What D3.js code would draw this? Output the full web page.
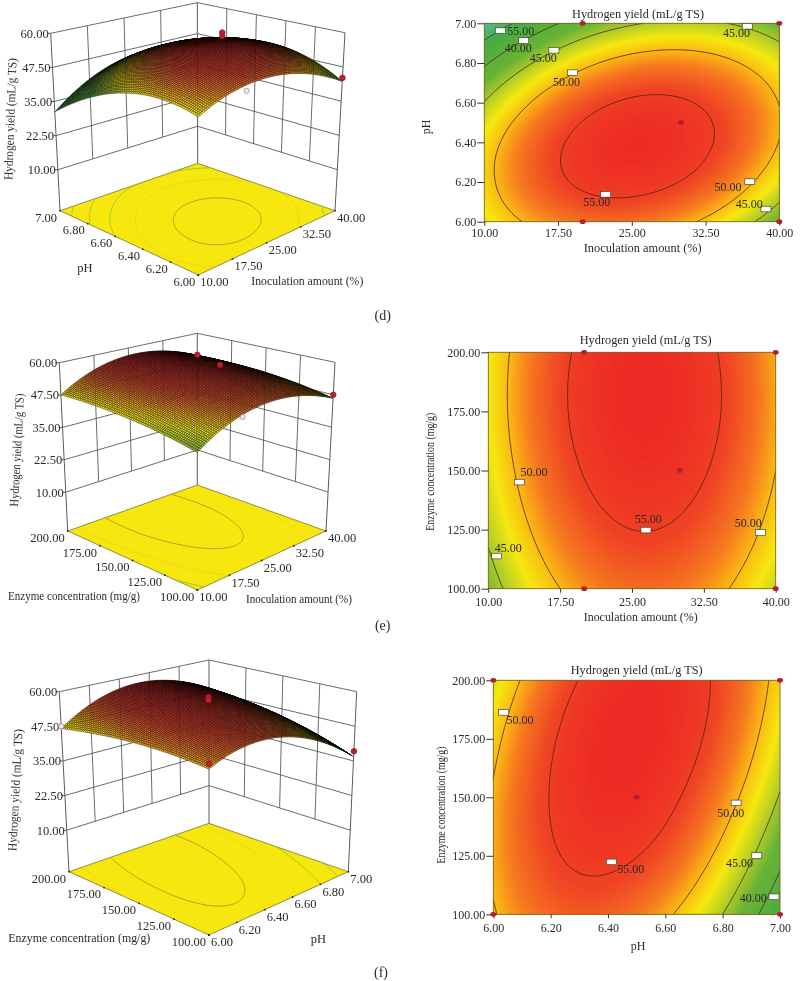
<!DOCTYPE html>
<html><head><meta charset="utf-8">
<script src="https://cdn.jsdelivr.net/npm/d3@7"></script>
<style>
html,body{margin:0;padding:0;background:#fff}
svg{display:block;filter:blur(0.35px)}
text{font-family:"Liberation Serif","Times New Roman",serif;fill:#2a2a2a}
</style></head><body><svg id="c" width="800" height="981"></svg>
<script>
// ---- values ----
const inocTicks = [10, 17.5, 25, 32.5, 40];
const phTicks = [6, 6.2, 6.4, 6.6, 6.8, 7];
const enzymeTicks = [100, 125, 150, 175, 200];
const zTicks = [10, 22.5, 35, 47.5, 60];
const contourLevels = [35, 40, 45, 50, 55];

// hydrogen yield at each tick crossing: rows = y-axis ticks, columns = x-axis ticks
const yieldInocPh = [
  [47.1, 51.8, 52.6, 49.4, 42.2],
  [48.9, 54.5, 56.0, 53.7, 47.3],
  [48.3, 54.6, 57.0, 55.4, 49.9],
  [45.1, 52.2, 55.4, 54.6, 49.9],
  [39.4, 47.3, 51.3, 51.3, 47.4],
  [31.2, 39.9, 44.6, 45.5, 42.3]];
const yieldInocEnzyme = [
  [43.3, 50.0, 52.7, 51.4, 46.1],
  [45.6, 52.3, 55.0, 53.7, 48.5],
  [47.1, 53.8, 56.5, 55.2, 50.0],
  [47.8, 54.5, 57.2, 55.9, 50.6],
  [47.6, 54.3, 57.0, 55.7, 50.4]];
const yieldPhEnzyme = [
  [49.7, 53.0, 53.3, 50.6, 45.0, 36.5],
  [50.5, 54.6, 55.6, 53.8, 48.9, 41.1],
  [50.3, 55.1, 56.9, 55.8, 51.7, 44.7],
  [49.0, 54.6, 57.2, 56.8, 53.5, 47.2],
  [46.7, 53.0, 56.4, 56.8, 54.2, 48.7]];

// design points seen on the 3D surfaces: x value, y value, measured yield
const pointsDX = [20, 40, 30, 30], pointsDY = [6, 6, 6.5, 6.5], pointsDZ = [50.5, 43.5, 59.2, 57.8], ringsD = [true, false, false, false];
const pointsEX = [20, 40, 40, 30], pointsEY = [100, 100, 200, 150], pointsEZ = [50.5, 47.5, 50.8, 58], ringsE = [true, false, false, false];
const pointsFX = [6, 6, 7, 6.5, 6.5], pointsFY = [100, 200, 100, 150, 150], pointsFZ = [51.5, 47.5, 38.5, 59.3, 58.3], ringsF = [false, true, false, false, false];

// contour labels: as printed, and where their white flags sit
const labelsDText = ["55.00","40.00","45.00","50.00","55.00","50.00","45.00","45.00"];
const labelsDX = [11.63,14.0,17.08,18.98,22.34,37.0,38.64,36.74];
const labelsDY = [6.963,6.913,6.864,6.751,6.138,6.202,6.064,6.985];
const labelsEText = ["50.00","45.00","55.00","50.00"];
const labelsEX = [13.24,10.87,26.46,38.4];
const labelsEY = [145.1,113.8,124.8,123.8];
const labelsFText = ["50.00","55.00","50.00","45.00","40.00"];
const labelsFX = [6.036,6.412,6.847,6.919,6.979];
const labelsFY = [186.3,122.4,147.6,125.1,107.5];

const title = "Hydrogen yield (mL/g TS)";
const inocName = "Inoculation amount (%)", phName = "pH", enzymeName = "Enzyme concentration (mg/g)";

// ---- layout ----
const zFloor = -5, zTop = 60;
const colorStops = [28, 31, 36, 42.5, 45, 47.8, 50, 52, 54.5, 57];
const colorRange = ["#56b8c4","#57b9a0","#47ac44","#69b335","#a9ca2a","#f6e80f","#fab814","#f6791f","#ef4224","#ee2a24"];
const color = d3.scaleLinear().domain(colorStops).range(colorRange).clamp(true);

const svg = d3.select("#c");

function catmull(v, t) {
  const n = v.length, s = Math.max(0, Math.min(1, t)) * (n - 1), i = Math.min(Math.floor(s), n - 2), f = s - i;
  const p0 = i > 0 ? v[i-1] : 3*v[0]-3*v[1]+v[2];
  const p1 = v[i], p2 = v[i+1];
  const p3 = i < n-2 ? v[i+2] : 3*v[n-1]-3*v[n-2]+v[n-3];
  return 0.5*((2*p1)+(-p0+p2)*f+(2*p0-5*p1+4*p2-p3)*f*f+(-p0+3*p1-3*p2+p3)*f*f*f);
}
function surfaceAt(table, a, b) { return catmull(table.map(r => catmull(r, a)), b); }

function contourField(table, nx, ny) {
  const vals = new Float64Array(nx*ny);
  for (let j=0;j<ny;j++) for (let i=0;i<nx;i++) vals[j*nx+i] = surfaceAt(table, i/(nx-1), j/(ny-1));
  return vals;
}
// open isolines, without the stretches that run along the frame
function isolineRuns(table, level, nx, ny, field) {
  const g = d3.contours().size([nx,ny]).thresholds([level])(field)[0];
  const fx = x => Math.max(0,Math.min(1,(x-0.5)/(nx-1))), fy = y => Math.max(0,Math.min(1,(y-0.5)/(ny-1)));
  const runs = [];
  g.coordinates.forEach(poly => poly.forEach(ring => {
    let cur = [];
    ring.forEach((p,k) => {
      const q = [fx(p[0]), fy(p[1])];
      if (k>0 && cur.length) {
        const r = cur[cur.length-1];
        const edge = (r[0]===0&&q[0]===0)||(r[0]===1&&q[0]===1)||(r[1]===0&&q[1]===0)||(r[1]===1&&q[1]===1);
        if (edge) { if (cur.length>1) runs.push(cur); cur = []; }
      }
      cur.push(q);
    });
    if (cur.length>1) runs.push(cur);
  }));
  return runs;
}
function fitted(sel, len) { return len ? sel.attr("textLength",len).attr("lengthAdjust","spacingAndGlyphs") : sel; }

function panel3D(o) {
  const g = svg.append("g");
  const aS = d3.scaleLinear().domain(d3.extent(o.aTicks)).range([0,1]);
  const bS = d3.scaleLinear().domain(d3.extent(o.bTicks)).range([0,1]);
  const zS = d3.scaleLinear().domain([zFloor,zTop]).range([0,1]);
  const lerp = (p,q,t) => [p[0]+(q[0]-p[0])*t, p[1]+(q[1]-p[1])*t];
  const proj = (a,b,z) => {
    const t = zS(z);
    const fl = lerp(lerp(o.F,o.R,a), lerp(o.L,o.B,a), b);
    const tp = lerp(lerp(o.tF,o.tR,a), lerp(o.tL,o.tB,a), b);
    return lerp(fl,tp,t);
  };
  const seg = (p,q,w) => g.append("line").attr("x1",p[0]).attr("y1",p[1]).attr("x2",q[0]).attr("y2",q[1])
      .attr("stroke","#5a5a5a").attr("stroke-width",w||0.9);
  // walls
  zTicks.forEach(z => { seg(proj(0,1,z),proj(1,1,z)); seg(proj(1,1,z),proj(1,0,z)); });
  o.aTicks.slice(1,-1).forEach(v => seg(proj(aS(v),1,10),proj(aS(v),1,60)));
  o.bTicks.slice(1,-1).forEach(v => seg(proj(1,bS(v),10),proj(1,bS(v),60)));
  seg(proj(0,1,zFloor),proj(0,1,60),1); seg(proj(1,1,zFloor),proj(1,1,60),1); seg(proj(1,0,zFloor),proj(1,0,60),1);
  // floor
  const poly = d3.line();
  g.append("path").attr("d",poly([proj(0,0,zFloor),proj(1,0,zFloor),proj(1,1,zFloor),proj(0,1,zFloor)])+"Z")
    .attr("fill","#f6e70e").attr("stroke","#4a4a20").attr("stroke-width",0.6);
  const nx=120, ny=90, field=contourField(o.table,nx,ny);
  contourLevels.forEach(l => {
    isolineRuns(o.table,l,nx,ny,field).forEach(run => {
      g.append("path").attr("d",poly(run.map(p=>proj(p[0],p[1],zFloor)))).attr("fill","none")
        .attr("stroke", l>=55 ? "#b8931f" : l>=50 ? "#e0c422" : "#93c42e").attr("stroke-width",0.9)
        .attr("stroke-opacity", l===50 ? 0.45 : 1);
    });
  });
  // floor edge ticks and labels
  o.aTicks.forEach(v => {
    const p = proj(aS(v),0,zFloor);
    g.append("circle").attr("cx",p[0]).attr("cy",p[1]).attr("r",0.9).attr("fill","#222");
    g.append("text").attr("x",p[0]+2).attr("y",p[1]+7).attr("dy","0.35em").attr("font-size",o.fs).text(d3.format(".2f")(v));
  });
  o.bTicks.forEach(v => {
    const p = proj(0,bS(v),zFloor);
    g.append("circle").attr("cx",p[0]).attr("cy",p[1]).attr("r",0.9).attr("fill","#222");
    g.append("text").attr("x",p[0]-3).attr("y",p[1]+6.5).attr("dy","0.35em").attr("text-anchor","end").attr("font-size",o.fs).text(d3.format(".2f")(v));
  });
  zTicks.forEach(z => {
    const p = proj(0,1,z);
    seg([p[0]-3,p[1]],p,1);
    g.append("text").attr("x",p[0]-2).attr("y",p[1]).attr("dy","0.35em").attr("text-anchor","end").attr("font-size",o.fs).text(d3.format(".2f")(z));
  });
  // surface, back to front
  const n = 80;
  const zGrid = d3.range(n+1).map(i => d3.range(n+1).map(j => surfaceAt(o.table,i/n,j/n)));
  const sg = g.append("g");
  for (let i=n-1;i>=0;i--) for (let j=n-1;j>=0;j--) {
    const c=[[i,j],[i+1,j],[i+1,j+1],[i,j+1]].map(q=>[q[0]/n,q[1]/n,zGrid[q[0]][q[1]]]);
    sg.append("path").attr("d",poly(c.map(d=>proj(d[0],d[1],d[2])))+"Z")
      .attr("fill",color(d3.mean(c,d=>d[2]))).attr("stroke","#000").attr("stroke-width",0.36);
  }
  // design points
  o.px.forEach((v,k) => {
    const p = proj(aS(v),bS(o.py[k]),o.pz[k]);
    const ring = o.rings[k];
    g.append("circle").attr("cx",p[0]).attr("cy",p[1]).attr("r",ring?2.6:2.8)
      .attr("fill",ring?"#f3e6ea":"#c21f2c").attr("stroke",ring?"#a87a90":"#8a1620").attr("stroke-width",0.7);
  });
  // titles
  const t = (x,y,s,rot,len) => fitted(g.append("text").attr("transform",`translate(${x},${y})`+(rot?` rotate(${rot})`:""))
      .attr("text-anchor","middle").attr("dy","0.35em").attr("font-size",12.5).text(s),len);
  t(o.zt[0],o.zt[1],title,o.zt[2],o.zt[3]);
  t(o.at[0],o.at[1],o.aName,0,o.at[2]);
  t(o.bt[0],o.bt[1],o.bName,0,o.bt[2]);
}

function panelContour(o) {
  const g = svg.append("g");
  const x = d3.scaleLinear().domain(d3.extent(o.xTicks)).range([o.x0,o.x1]);
  const y = d3.scaleLinear().domain(d3.extent(o.yTicks)).range([o.y1,o.y0]);
  const nx=150, ny=110, field=contourField(o.table,nx,ny);
  const fx = d => Math.max(0,Math.min(1,(d-0.5)/(nx-1))), fy = d => Math.max(0,Math.min(1,(d-0.5)/(ny-1)));
  const sx = d3.scaleLinear().domain([0,1]).range([o.x0,o.x1]), sy = d3.scaleLinear().domain([0,1]).range([o.y1,o.y0]);
  const path = d3.geoPath(d3.geoTransform({point(a,b){ this.stream.point(sx(fx(a)),sy(fy(b))); }}));
  const th = d3.range(28,58.01,0.25);
  g.append("rect").attr("x",o.x0).attr("y",o.y0).attr("width",o.x1-o.x0).attr("height",o.y1-o.y0).attr("fill",color(28));
  g.selectAll("path.band").data(d3.contours().size([nx,ny]).thresholds(th)(field)).join("path")
    .attr("class","band").attr("d",path).attr("fill",d=>color(d.value));
  const line = d3.line();
  contourLevels.forEach(l => isolineRuns(o.table,l,nx,ny,field).forEach(run => {
    g.append("path").attr("d",line(run.map(p=>[sx(p[0]),sy(p[1])]))).attr("fill","none").attr("stroke","#4a2410").attr("stroke-width",0.8);
  }));
  g.append("rect").attr("x",o.x0).attr("y",o.y0).attr("width",o.x1-o.x0).attr("height",o.y1-o.y0)
    .attr("fill","none").attr("stroke","#7d6a22").attr("stroke-width",0.9);
  const ax = g.append("g").attr("transform",`translate(0,${o.y1})`)
    .call(d3.axisBottom(x).tickValues(o.xTicks).tickFormat(d3.format(".2f")).tickSize(4).tickPadding(o.xPad));
  const ay = g.append("g").attr("transform",`translate(${o.x0},0)`)
    .call(d3.axisLeft(y).tickValues(o.yTicks).tickFormat(d3.format(".2f")).tickSize(7).tickPadding(1));
  [ax,ay].forEach(a => { a.select(".domain").remove(); a.selectAll("line").attr("stroke","#333"); a.selectAll("text").attr("font-size",12).attr("font-family",null); a.attr("font-family",null).attr("font-size",null); });
  // design points
  o.px.forEach((v,k) => g.append("ellipse").attr("cx",x(v)).attr("cy",y(o.py[k])).attr("rx",3).attr("ry",2.4).attr("fill","#b3202c"));
  // flags and their labels
  o.lText.forEach((s,k) => {
    const px=x(o.lx[k]), py=y(o.ly[k]);
    g.append("rect").attr("x",px-5).attr("y",py-2.8).attr("width",10).attr("height",5.6).attr("fill","#fff").attr("stroke","#333").attr("stroke-width",0.6);
    g.append("text").attr("x",px+o.lOff[k][0]).attr("y",py+o.lOff[k][1]).attr("dy","0.35em").attr("text-anchor","middle").attr("font-size",12).text(s);
  });
  const t = (px,py,s,rot,len) => fitted(g.append("text").attr("transform",`translate(${px},${py})`+(rot?` rotate(${rot})`:""))
    .attr("text-anchor","middle").attr("dy","0.35em").attr("font-size",12).text(s),len);
  t(o.tt[0],o.tt[1],title,0,132);
  t(o.xt[0],o.xt[1],o.xName,0,o.xt[2]);
  t(o.yt[0],o.yt[1],o.yName,-90,o.yt[2]);
}

// row (d)
panel3D({table:yieldInocPh,aTicks:inocTicks,bTicks:phTicks,fs:12.5,
  F:[198.3,275],R:[335,210.7],L:[60,210.7],B:[197.7,163.3],tF:[198.3,78],tR:[345,32.7],tL:[50.7,33.3],tB:[197.3,2.7],
  px:pointsDX,py:pointsDY,pz:pointsDZ,rings:ringsD,zt:[10,119,-88,122],at:[307.3,280.7,112],bt:[85,267.7,0],aName:inocName,bName:phName});
panelContour({table:yieldInocPh,xTicks:inocTicks,yTicks:phTicks,x0:484.3,x1:779.3,y0:23.3,y1:221.7,xPad:3,
  px:[20,20,40,40,30],py:[6,7,6,7,6.5],lText:labelsDText,lx:labelsDX,ly:labelsDY,
  lOff:[[20.3,0],[-5.3,7],[-10.7,8],[-6,9],[-9,7.3],[-21.7,5],[-16.7,-5],[-10.7,6.3]],
  tt:[638,13.3],xt:[642.7,247.7,118],yt:[426,127,0],xName:inocName,yName:phName});

// row (e)
panel3D({table:yieldInocEnzyme,aTicks:inocTicks,bTicks:enzymeTicks,fs:12.5,
  F:[197.3,590],R:[326,531],L:[67.7,531],B:[197.3,485],tF:[197.3,405],tR:[335,362.3],tL:[59.3,362.7],tB:[197.3,333.3],
  px:pointsEX,py:pointsEY,pz:pointsEZ,rings:ringsE,zt:[16.7,450,-87,113],at:[299,598.3,106],bt:[74,596,132],aName:inocName,bName:enzymeName});
panelContour({table:yieldInocEnzyme,xTicks:inocTicks,yTicks:enzymeTicks,x0:488.3,x1:775.7,y0:352.3,y1:588.7,xPad:5,
  px:[20,20,40,40,30],py:[100,200,100,200,150],lText:labelsEText,lx:labelsEX,ly:labelsEY,
  lOff:[[14.7,-10.3],[11.7,-8.3],[2.3,-11.7],[-12,-9.7]],
  tt:[645.7,339.3],xt:[640.7,616.7,114],yt:[430,471.7,118],xName:inocName,yName:enzymeName});

// row (f)
panel3D({table:yieldPhEnzyme,aTicks:phTicks,bTicks:enzymeTicks,fs:12.5,
  F:[209,935],R:[348.3,871.7],L:[69,871.7],B:[209,823.3],tF:[209,738],tR:[356.7,691.7],tL:[59.3,691.7],tB:[209,660],
  px:pointsFX,py:pointsFY,pz:pointsFZ,rings:ringsF,zt:[15,790,-87,122],at:[318.3,938.3,0],bt:[79.3,938,142],aName:phName,bName:enzymeName});
panelContour({table:yieldPhEnzyme,xTicks:phTicks,yTicks:enzymeTicks,x0:493.3,x1:780,y0:680.3,y1:914.3,xPad:5,
  px:[6,6,7,7,6.5],py:[100,200,100,200,150],lText:labelsFText,lx:labelsFX,ly:labelsFY,
  lOff:[[16.3,7.7],[19.3,7.3],[-5.3,9.7],[-17.3,7.7],[-20.7,1]],
  tt:[636.7,670],xt:[638,945.7,0],yt:[440.7,805,117],xName:phName,yName:enzymeName});

// panel letters
[["(d)",382.7,315],["(e)",382.7,625],["(f)",381,971.7]].forEach(d =>
  svg.append("text").attr("x",d[1]).attr("y",d[2]).attr("dy","0.35em").attr("text-anchor","middle").attr("font-size",14).text(d[0]));
</script></body></html>
